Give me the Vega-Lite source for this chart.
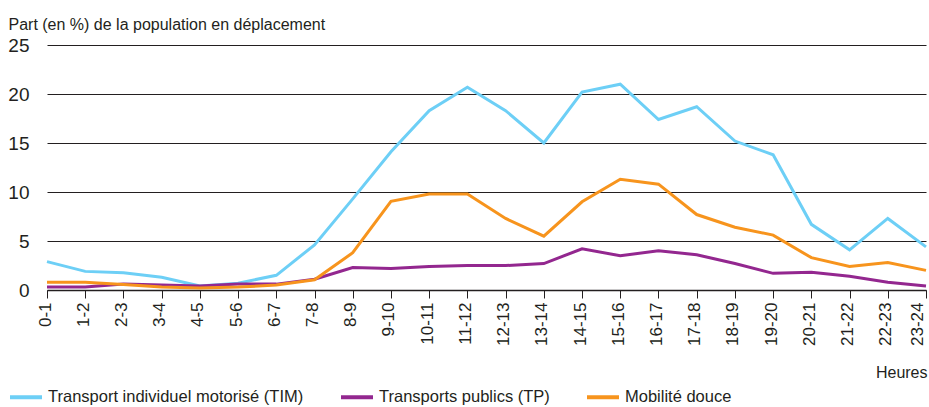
{
  "$schema": "https://vega.github.io/schema/vega-lite/v6.json",
  "width": 879,
  "height": 245,
  "autosize": "none",
  "padding": {"left": 47, "top": 45, "right": 3, "bottom": 117},
  "background": "white",
  "config": {
    "view": {"stroke": null},
    "font": "Liberation Sans",
    "axis": {"labelFont": "Liberation Sans", "titleFont": "Liberation Sans"},
    "legend": {"labelFont": "Liberation Sans"}
  },
  "data": {"values": [
    {"h":"0-1","s":"Transport individuel motorisé (TIM)","v":2.9},
    {"h":"1-2","s":"Transport individuel motorisé (TIM)","v":1.9},
    {"h":"2-3","s":"Transport individuel motorisé (TIM)","v":1.75},
    {"h":"3-4","s":"Transport individuel motorisé (TIM)","v":1.3},
    {"h":"4-5","s":"Transport individuel motorisé (TIM)","v":0.4},
    {"h":"5-6","s":"Transport individuel motorisé (TIM)","v":0.7},
    {"h":"6-7","s":"Transport individuel motorisé (TIM)","v":1.5},
    {"h":"7-8","s":"Transport individuel motorisé (TIM)","v":4.6},
    {"h":"8-9","s":"Transport individuel motorisé (TIM)","v":9.3},
    {"h":"9-10","s":"Transport individuel motorisé (TIM)","v":14.1},
    {"h":"10-11","s":"Transport individuel motorisé (TIM)","v":18.3},
    {"h":"11-12","s":"Transport individuel motorisé (TIM)","v":20.7},
    {"h":"12-13","s":"Transport individuel motorisé (TIM)","v":18.3},
    {"h":"13-14","s":"Transport individuel motorisé (TIM)","v":15.0},
    {"h":"14-15","s":"Transport individuel motorisé (TIM)","v":20.2},
    {"h":"15-16","s":"Transport individuel motorisé (TIM)","v":21.0},
    {"h":"16-17","s":"Transport individuel motorisé (TIM)","v":17.4},
    {"h":"17-18","s":"Transport individuel motorisé (TIM)","v":18.7},
    {"h":"18-19","s":"Transport individuel motorisé (TIM)","v":15.2},
    {"h":"19-20","s":"Transport individuel motorisé (TIM)","v":13.8},
    {"h":"20-21","s":"Transport individuel motorisé (TIM)","v":6.7},
    {"h":"21-22","s":"Transport individuel motorisé (TIM)","v":4.1},
    {"h":"22-23","s":"Transport individuel motorisé (TIM)","v":7.3},
    {"h":"23-24","s":"Transport individuel motorisé (TIM)","v":4.4},
    {"h":"0-1","s":"Transports publics (TP)","v":0.3},
    {"h":"1-2","s":"Transports publics (TP)","v":0.3},
    {"h":"2-3","s":"Transports publics (TP)","v":0.6},
    {"h":"3-4","s":"Transports publics (TP)","v":0.5},
    {"h":"4-5","s":"Transports publics (TP)","v":0.4},
    {"h":"5-6","s":"Transports publics (TP)","v":0.6},
    {"h":"6-7","s":"Transports publics (TP)","v":0.6},
    {"h":"7-8","s":"Transports publics (TP)","v":1.1},
    {"h":"8-9","s":"Transports publics (TP)","v":2.3},
    {"h":"9-10","s":"Transports publics (TP)","v":2.2},
    {"h":"10-11","s":"Transports publics (TP)","v":2.4},
    {"h":"11-12","s":"Transports publics (TP)","v":2.5},
    {"h":"12-13","s":"Transports publics (TP)","v":2.5},
    {"h":"13-14","s":"Transports publics (TP)","v":2.7},
    {"h":"14-15","s":"Transports publics (TP)","v":4.2},
    {"h":"15-16","s":"Transports publics (TP)","v":3.5},
    {"h":"16-17","s":"Transports publics (TP)","v":4.0},
    {"h":"17-18","s":"Transports publics (TP)","v":3.6},
    {"h":"18-19","s":"Transports publics (TP)","v":2.7},
    {"h":"19-20","s":"Transports publics (TP)","v":1.7},
    {"h":"20-21","s":"Transports publics (TP)","v":1.8},
    {"h":"21-22","s":"Transports publics (TP)","v":1.4},
    {"h":"22-23","s":"Transports publics (TP)","v":0.8},
    {"h":"23-24","s":"Transports publics (TP)","v":0.4},
    {"h":"0-1","s":"Mobilité douce","v":0.8},
    {"h":"1-2","s":"Mobilité douce","v":0.8},
    {"h":"2-3","s":"Mobilité douce","v":0.55},
    {"h":"3-4","s":"Mobilité douce","v":0.3},
    {"h":"4-5","s":"Mobilité douce","v":0.2},
    {"h":"5-6","s":"Mobilité douce","v":0.3},
    {"h":"6-7","s":"Mobilité douce","v":0.5},
    {"h":"7-8","s":"Mobilité douce","v":1.05},
    {"h":"8-9","s":"Mobilité douce","v":3.8},
    {"h":"9-10","s":"Mobilité douce","v":9.05},
    {"h":"10-11","s":"Mobilité douce","v":9.8},
    {"h":"11-12","s":"Mobilité douce","v":9.8},
    {"h":"12-13","s":"Mobilité douce","v":7.3},
    {"h":"13-14","s":"Mobilité douce","v":5.5},
    {"h":"14-15","s":"Mobilité douce","v":9.0},
    {"h":"15-16","s":"Mobilité douce","v":11.3},
    {"h":"16-17","s":"Mobilité douce","v":10.8},
    {"h":"17-18","s":"Mobilité douce","v":7.7},
    {"h":"18-19","s":"Mobilité douce","v":6.4},
    {"h":"19-20","s":"Mobilité douce","v":5.6},
    {"h":"20-21","s":"Mobilité douce","v":3.3},
    {"h":"21-22","s":"Mobilité douce","v":2.4},
    {"h":"22-23","s":"Mobilité douce","v":2.8},
    {"h":"23-24","s":"Mobilité douce","v":2.0}
  ]},
  "mark": {"type": "line", "strokeWidth": 3},
  "encoding": {
    "x": {
      "field": "h", "type": "ordinal", "sort": null,
      "scale": {"type": "point", "padding": 0},
      "axis": {
        "title": "Heures", "titleFontSize": 16, "titleFontWeight": "normal", "titleColor": "#231f20",
        "titleAlign": "right", "titleBaseline": "alphabetic", "titleX": 880, "titleY": 87,
        "labelAngle": -90, "labelFontSize": 17, "labelColor": "#231f20", "labelPadding": 4,
        "labelOffset": {"condition": {"test": "datum.value === '23-24'", "value": -9}, "value": -2},
        "tickColor": "#231f20", "tickSize": 8, "domainColor": "#231f20", "domainWidth": 1.5,
        "grid": false
      }
    },
    "y": {
      "field": "v", "type": "quantitative",
      "scale": {"domain": [0, 25]},
      "axis": {
        "values": [0, 5, 10, 15, 20, 25],
        "title": "Part (en %) de la population en déplacement",
        "titleAngle": 0, "titleAlign": "left", "titleBaseline": "alphabetic",
        "titleX": -39, "titleY": -16, "titleFontSize": 16, "titleFontWeight": "normal", "titleColor": "#231f20",
        "labelFontSize": 19, "labelColor": "#231f20", "labelPadding": 18,
        "domain": false, "ticks": false,
        "gridColor": "#231f20", "gridWidth": 1
      }
    },
    "color": {
      "field": "s", "type": "nominal",
      "scale": {
        "domain": ["Transport individuel motorisé (TIM)", "Transports publics (TP)", "Mobilité douce"],
        "range": ["#6dcff6", "#93278f", "#f7941d"]
      },
      "legend": {
        "title": null, "orient": "none", "direction": "horizontal",
        "legendX": -39, "legendY": 334,
        "symbolType": "stroke", "symbolSize": 1024, "symbolStrokeWidth": 4,
        "labelFontSize": 16.5, "labelColor": "#231f20", "labelOffset": 4, "labelLimit": 400,
        "columnPadding": 29
      }
    }
  }
}
